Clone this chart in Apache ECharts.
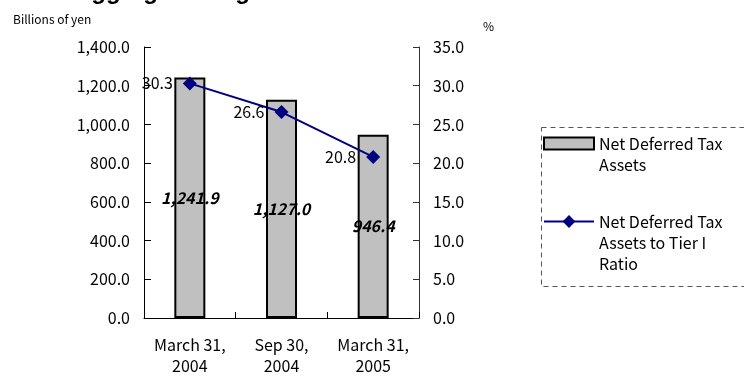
<!DOCTYPE html>
<html>
<head>
<meta charset="utf-8">
<script src="https://cdn.jsdelivr.net/npm/echarts@6/dist/echarts.min.js"></script>
<style>
  html, body { margin: 0; padding: 0; background: #fff; }
  #chart { width: 744px; height: 376px; }
</style>
</head>
<body>
<div id="chart"></div>
<script>
  'use strict'

  var categories = ['March 31,\n2004', 'Sep 30,\n2004', 'March 31,\n2005'];
  var taxAssets = [1241.9, 1127.0, 946.4];
  var tierRatio = [30.3, 26.6, 20.8];
  var barName = 'Net Deferred Tax Assets';
  var lineName = 'Net Deferred Tax Assets to Tier I Ratio';

  var jp = '"Noto Sans CJK JP", sans-serif';

  function fmt1(v) {
    return Number(v).toLocaleString('en-US', { minimumFractionDigits: 1, maximumFractionDigits: 1 });
  }

  var option = {
    animation: false,
    backgroundColor: '#fff',
    title: {
      text: 'Aggregated Figures of the Two Banks',
      left: 74,
      top: -20,
      padding: 0,
      textStyle: { fontFamily: '"Liberation Sans", Arial, sans-serif', fontWeight: 'bold', fontSize: 24, color: '#000' }
    },
    graphic: [
      { type: 'text', left: 13, top: 13, style: { text: 'Billions of yen', font: '12px ' + jp, fill: '#000' } },
      { type: 'text', left: 483, top: 20, style: { text: '%', font: '12px ' + jp, fill: '#000' } },
      {
        type: 'rect', left: 539, top: 125,
        shape: { width: 230, height: 159 },
        style: { fill: 'none', stroke: '#555', lineWidth: 1, lineDash: [5, 4] }
      }
    ],
    legend: [
      {
        data: [{ name: barName, icon: 'rect' }],
        left: 543, top: 112, padding: 0,
        itemWidth: 50, itemHeight: 12,
        formatter: function () { return ' \nNet Deferred Tax\nAssets'; },
        textStyle: { fontFamily: jp, fontSize: 16, lineHeight: 21, color: '#000' }
      },
      {
        data: [lineName],
        left: 543, top: 169, padding: 0,
        itemWidth: 50, itemHeight: 16,
        formatter: function () { return ' \n \nNet Deferred Tax\nAssets to Tier I\nRatio'; },
        textStyle: { fontFamily: jp, fontSize: 16, lineHeight: 21, color: '#000' }
      }
    ],
    grid: { left: 144, right: 325, top: 47, bottom: 54 },
    xAxis: {
      type: 'category',
      data: categories,
      axisLine: { lineStyle: { color: '#000', width: 1 } },
      axisTick: { show: true, inside: true, interval: 0, length: 6, lineStyle: { color: '#000', width: 1 } },
      axisLabel: { interval: 0, fontFamily: jp, fontSize: 16, lineHeight: 21, color: '#000', margin: 16 }
    },
    yAxis: [
      {
        type: 'value', min: 0, max: 1400, interval: 200,
        axisLine: { show: true, lineStyle: { color: '#000' } },
        axisTick: { show: true, inside: true, length: 7, lineStyle: { color: '#000' } },
        splitLine: { show: false },
        axisLabel: { fontFamily: jp, fontSize: 16, color: '#000', margin: 14, formatter: fmt1 }
      },
      {
        type: 'value', min: 0, max: 35, interval: 5,
        axisLine: { show: true, lineStyle: { color: '#333' } },
        axisTick: { show: true, inside: true, length: 6, lineStyle: { color: '#333' } },
        splitLine: { show: false },
        axisLabel: { fontFamily: jp, fontSize: 16, color: '#000', margin: 14, formatter: fmt1 }
      }
    ],
    series: [
      {
        name: barName,
        type: 'bar',
        data: taxAssets,
        barWidth: 31,
        itemStyle: { color: '#c0c0c0', borderColor: '#000', borderWidth: 2 },
        label: {
          show: true, position: 'inside', color: '#000',
          fontFamily: jp, fontSize: 16, fontWeight: 'bold', fontStyle: 'italic',
          formatter: function (p) { return fmt1(p.value); }
        },
        z: 2
      },
      {
        name: lineName,
        type: 'line',
        yAxisIndex: 1,
        data: tierRatio,
        symbol: 'diamond',
        symbolSize: 14,
        lineStyle: { color: '#000080', width: 2 },
        itemStyle: { color: '#000080' },
        label: {
          show: true, position: 'left', distance: 10, color: '#000',
          fontFamily: jp, fontSize: 16,
          formatter: function (p) { return p.value.toFixed(1); }
        },
        z: 3
      }
    ]
  };

  var chart = echarts.init(document.getElementById('chart'));
  chart.setOption(option);
</script>
</body>
</html>
